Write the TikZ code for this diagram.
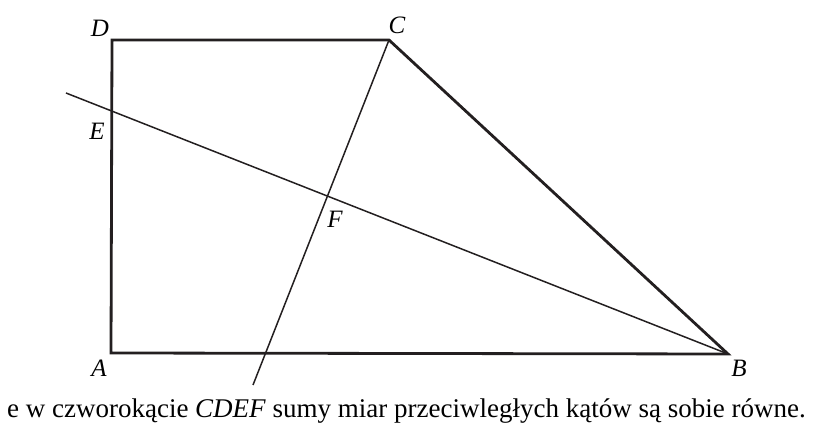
\documentclass[tikz,border=0pt]{standalone}
\usepackage{fontspec}
\setmainfont{Liberation Serif}
\usetikzlibrary{calc}
\definecolor{ink}{HTML}{231F20}
\begin{document}
\begin{tikzpicture}[x=1pt,y=-1pt,
  thick edge/.style={draw=ink,line width=2.8pt,line join=miter},
  thin edge/.style={draw=ink,line width=1.5pt},
  lbl/.style={font=\fontsize{25}{28}\selectfont\itshape,inner sep=0pt}]
\useasboundingbox (0,0) rectangle (815,438);
\coordinate (A) at (111,353);
\coordinate (B) at (728,354);
\coordinate (C) at (389,40);
\coordinate (D) at (112,40);
\coordinate (P) at (66,93);
\coordinate (Q) at (253,385);
\coordinate (E) at (112,111);
\coordinate (F) at (328,196);
\draw[thick edge] (B) -- (A) -- (D) -- (C) -- cycle;
\draw[thin edge] (P) -- (B);
\draw[thin edge] (C) -- (Q);
\node[lbl] (lD) at (100,28) {D};
\node[lbl] (lC) at (397,25) {C};
\node[lbl] (lE) at (97,131) {E};
\node[lbl] (lF) at (335,219) {F};
\node[lbl] (lA) at (99,368) {A};
\node[lbl] (lB) at (739,368) {B};
\node[font=\fontsize{27}{30}\selectfont,anchor=base east,inner sep=0pt] (txt) at (806,418) {e w czworokącie \textit{CDEF} sumy miar przeciwległych kątów są sobie równe.};
\end{tikzpicture}
\end{document}
